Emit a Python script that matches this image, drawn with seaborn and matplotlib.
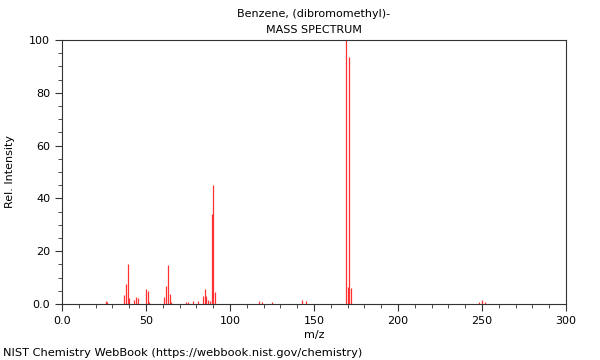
import matplotlib
matplotlib.use("Agg")
import matplotlib.pyplot as plt
import seaborn as sns
from matplotlib.ticker import MultipleLocator, FixedLocator

title_lines = ["Benzene, (dibromomethyl)-", "MASS SPECTRUM"]
mz = [26, 27, 37, 38, 39, 40, 43, 44, 45, 50, 51, 52, 61, 62, 63, 64, 65,
      74, 75, 78, 81, 84, 85, 86, 87, 88, 89, 90, 91, 117, 119, 125, 143, 145,
      169, 170, 171, 172, 248, 250, 252]
intensity = [1.0, 0.8, 3.3, 7.6, 15.0, 2.4, 1.6, 2.6, 2.2, 5.7, 4.9, 0.8, 2.8, 6.8, 14.8, 3.7, 0.8,
             0.8, 0.8, 1.3, 1.2, 3.0, 5.7, 3.0, 1.5, 1.2, 34.0, 45.0, 4.4, 1.0, 0.8, 0.8, 1.5, 1.0,
             100.0, 6.5, 93.5, 6.0, 0.8, 1.6, 0.8]
xticks = [0, 50, 100, 150, 200, 250, 300]
xticklabels = ["0.0", "50", "100", "150", "200", "250", "300"]
yticks = [0, 20, 40, 60, 80, 100]
yticklabels = ["0.0", "20", "40", "60", "80", "100"]
footer = "NIST Chemistry WebBook (https://webbook.nist.gov/chemistry)"

sns.set_style("ticks")
plt.rcParams['font.family'] = ['DejaVu Sans']
plt.rcParams['font.size'] = 8
plt.rcParams['text.color'] = 'black'
plt.rcParams['axes.labelcolor'] = 'black'

fig = plt.figure(figsize=(6, 3.6), dpi=100)
ax = fig.add_axes([62/600, 1-304/360, (566-62)/600, (304-40)/360])

ax.vlines(mz, 0, intensity, colors="#ff3030", linewidth=0.9)

ax.set_xlim(0, 300)
ax.set_ylim(0, 100)
ax.xaxis.set_major_locator(FixedLocator(xticks))
ax.set_xticklabels(xticklabels)
ax.yaxis.set_major_locator(FixedLocator(yticks))
ax.set_yticklabels(yticklabels)
ax.xaxis.set_minor_locator(MultipleLocator(10))
ax.yaxis.set_minor_locator(MultipleLocator(5))
ax.tick_params(which="major", direction="out", length=5, width=0.8, colors="#333333", labelcolor="black", labelsize=8)
ax.tick_params(which="minor", direction="out", length=3, width=0.6, colors="#333333")
for s in ax.spines.values():
    s.set_visible(True)
    s.set_color("#333333")
    s.set_linewidth(0.8)

ax.set_xlabel("m/z", fontsize=8, labelpad=3)
ax.set_ylabel("Rel. Intensity", fontsize=8, labelpad=10)
fig.text(314/600, 1-14/360, title_lines[0], ha="center", va="center", fontsize=8, color="black")
fig.text(314/600, 1-30/360, title_lines[1], ha="center", va="center", fontsize=8, color="black")
fig.text(3/600, 1-353/360, footer, ha="left", va="center", fontsize=8.2, color="black")

fig.savefig("out.png", dpi=100)
